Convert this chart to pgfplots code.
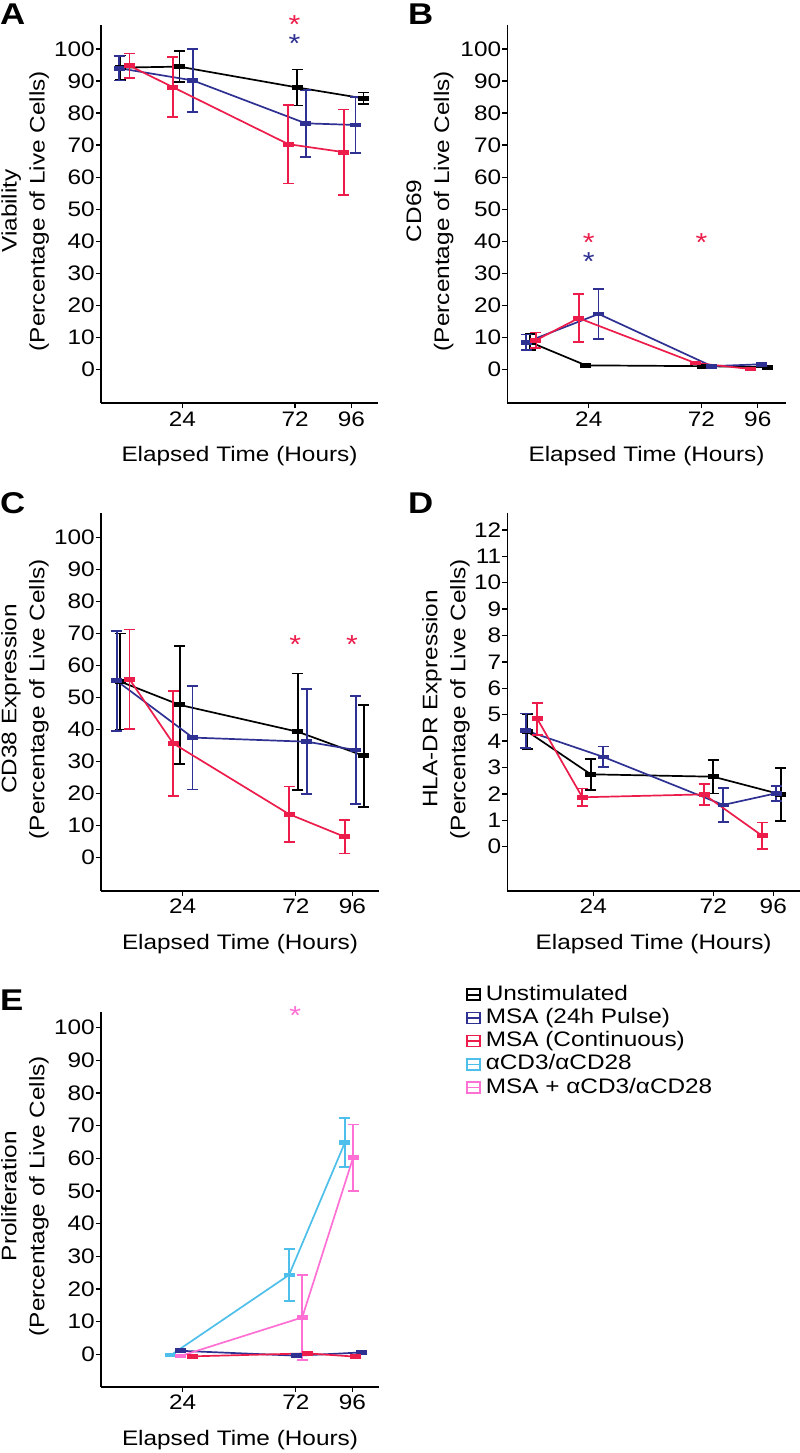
\documentclass[border=0pt]{standalone}
\usepackage{pgfplots}
\pgfplotsset{compat=1.18}
\usepackage{fontspec}
\setmainfont{Liberation Sans}[FakeStretch=1.16]

\definecolor{cBlack}{HTML}{000000}
\definecolor{cBlue}{HTML}{2E3192}
\definecolor{cRed}{HTML}{EC1C4B}
\definecolor{cCyan}{HTML}{4DBFEA}
\definecolor{cPink}{HTML}{FF70D4}

\newcommand{\tf}{\fontsize{21}{28}\selectfont}

\pgfplotsset{
  panel/.style={
    scale only axis,
    axis x line*=bottom, axis y line*=left,
    axis line style={line width=1.6pt, -},
    tick align=outside,
    major tick length=5pt,
    tick style={line width=1.3pt, black},
    /pgf/number format/assume math mode=true,
    tick label style={font=\tf},
    label style={font=\tf},
    xtick={24,72,96},
    ylabel style={align=center, at={(axis description cs:#1,0.508)}, anchor=center},
    xlabel style={at={(axis description cs:0.5,0)}, anchor=base, yshift=-58.7pt},
    xlabel={Elapsed Time (Hours)},
    yticklabel style={inner sep=1pt},
    clip=false,
  },
  series/.style={
    color=#1, line width=1.7pt, mark=-, mark size=5.5pt,
    mark options={solid, line width=4.8pt},
    error bars/y dir=both, error bars/y explicit,
    error bars/error mark options={color=#1, rotate=90, line width=1.7pt, mark size=5.5pt},
    error bars/error bar style={color=#1, line width=1.7pt},
  },
  boxkey/.style={legend image code/.code={
      \draw[##1, line width=1.6pt, mark=none] (0pt,-5.5pt) rectangle (13pt,5.5pt);
      \draw[##1, line width=1.6pt, mark=none] (0pt,0pt) -- (13pt,0pt);}},
}
\tikzset{
  sigstar/.style={font=\fontsize{26}{26}\selectfont, anchor=base, yshift=-14.8pt, inner sep=0pt},
  sigpair/.style={font=\fontsize{26}{19}\selectfont, align=center, anchor=north, yshift=3.5pt, inner sep=0pt},
}

\begin{document}
\begin{tikzpicture}
\useasboundingbox (0pt,-1453pt) rectangle (800pt,0pt);

% panel letters
\node[anchor=base west, inner sep=0pt, font=\fontsize{30}{30}\selectfont\bfseries] at (0pt,-25pt) {A};
\node[anchor=base west, inner sep=0pt, font=\fontsize{30}{30}\selectfont\bfseries] at (408pt,-25pt) {B};
\node[anchor=base west, inner sep=0pt, font=\fontsize{30}{30}\selectfont\bfseries] at (0pt,-513.3pt) {C};
\node[anchor=base west, inner sep=0pt, font=\fontsize{30}{30}\selectfont\bfseries] at (408pt,-513.3pt) {D};
\node[anchor=base west, inner sep=0pt, font=\fontsize{30}{30}\selectfont\bfseries] at (0pt,-1010pt) {E};

% ---------------- A: viability
\begin{axis}[panel=-0.274, at={(101pt,-25pt)}, anchor=north west,
  width=277pt, height=378pt, xmin=-10.7, xmax=107.3, ymin=-10.5, ymax=107.5,
  ytick={0,10,...,100}, ylabel={Viability\\(Percentage of Live Cells)}]
\addplot[series=cBlack] table[x=t, y=v, y error=e] {
t v e
-2.6 94.2 3.8
22.7 94.5 4.9
72.9 88.0 5.6
101.1 84.6 1.8
};
\addplot[series=cBlue] table[x=t, y=v, y error=e] {
t v e
-3.0 94.0 3.8
28.4 90.2 9.8
76.5 76.8 10.4
97.7 76.3 8.7
};
\addplot[series=cRed] table[x=t, y=v, y error=e] {
t v e
1.4 94.8 3.8
19.9 88.1 9.4
69.1 70.3 12.3
92.8 67.8 13.3
};
\node[sigpair] at (axis cs:71.7,109.3) {\textcolor{cRed}{*}\\\textcolor{cBlue}{*}};
\end{axis}

% ---------------- B: CD69
\begin{axis}[panel=-0.278, at={(507.3pt,-25pt)}, anchor=north west,
  width=278.4pt, height=378pt, xmin=-10.7, xmax=107.9, ymin=-10.5, ymax=107.5,
  ytick={0,10,...,100}, ylabel={CD69\\(Percentage of Live Cells)}]
\addplot[series=cBlack] table[x=t, y=v, y error=e] {
t v e
-1.0 8.5 2.5
22.8 1.25 0.3
72.4 1.0 0.3
100.1 0.7 0.3
};
\addplot[series=cBlue] table[x=t, y=v, y error=e] {
t v e
-2.7 8.5 2.4
28.2 17.3 7.8
76.4 1.0 0.4
97.7 1.6 0.5
};
\addplot[series=cRed] table[x=t, y=v, y error=e] {
t v e
1.5 9.1 2.4
19.7 16.0 7.5
69.3 2.0 0.5
93.0 0.1 0.3
};
\node[sigpair] at (axis cs:24,41.5) {\textcolor{cRed}{*}\\\textcolor{cBlue}{*}};
\node[sigstar, cRed] at (axis cs:72,41.5) {*};
\end{axis}

% ---------------- C: CD38
\begin{axis}[panel=-0.274, at={(101pt,-513.3pt)}, anchor=north west,
  width=278pt, height=377.4pt, xmin=-10.7, xmax=107.3, ymin=-10.3, ymax=107.5,
  ytick={0,10,...,100}, ylabel={CD38 Expression\\(Percentage of Live Cells)}]
\addplot[series=cBlack] table[x=t, y=v, y error=e] {
t v e
-2.6 55.0 15.0
22.7 47.7 18.4
72.9 39.3 18.2
100.8 31.8 15.9
};
\addplot[series=cBlue] table[x=t, y=v, y error=e] {
t v e
-4.0 55.2 15.6
28.2 37.5 16.2
76.7 36.2 16.4
97.5 33.6 16.9
};
\addplot[series=cRed] table[x=t, y=v, y error=e] {
t v e
1.4 55.7 15.5
19.9 35.7 16.4
69.1 13.6 8.6
92.8 6.5 5.2
};
\node[sigstar, cRed] at (axis cs:71.7,68.5) {*};
\node[sigstar, cRed] at (axis cs:95.8,68.5) {*};
\end{axis}

% ---------------- D: HLA-DR
\begin{axis}[panel=-0.21, at={(507.3pt,-513.3pt)}, anchor=north west,
  width=292.7pt, height=377.4pt, xmin=-10.4, xmax=106.7, ymin=-1.67, ymax=12.63,
  ytick={0,1,...,12}, ylabel={HLA-DR Expression\\(Percentage of Live Cells)}]
\addplot[series=cBlack] table[x=t, y=v, y error=e] {
t v e
-2.3 4.36 0.66
23.0 2.74 0.59
72.0 2.65 0.64
99.0 1.98 1.0
};
\addplot[series=cBlue] table[x=t, y=v, y error=e] {
t v e
-3.0 4.40 0.65
28.0 3.40 0.39
76.0 1.58 0.65
97.1 2.02 0.28
};
\addplot[series=cRed] table[x=t, y=v, y error=e] {
t v e
1.6 4.84 0.6
19.6 1.87 0.33
68.3 1.98 0.4
91.6 0.41 0.5
};
\end{axis}

% ---------------- E: proliferation
\begin{axis}[panel=-0.274, at={(101pt,-1011.7pt)}, anchor=north west,
  width=278pt, height=375pt, xmin=-10.7, xmax=107.3, ymin=-9.9, ymax=104.9,
  ytick={0,10,...,100}, ylabel={Proliferation\\(Percentage of Live Cells)},
  legend style={at={(axis description cs:1.313,1.071)}, anchor=north west,
    draw=none, fill=none, font=\tf, inner sep=0pt, row sep=4.2pt, column sep=5pt,
    nodes={inner sep=0pt, text height=15pt, text depth=4pt}},
  legend cell align=left]
\addlegendimage{boxkey, cBlack}
\addlegendimage{boxkey, cBlue}
\addlegendimage{boxkey, cRed}
\addlegendimage{boxkey, cCyan}
\addlegendimage{boxkey, cPink}
\legend{Unstimulated, MSA (24h Pulse), MSA (Continuous), αCD3/αCD28, MSA + αCD3/αCD28}
\addplot[series=cBlue, forget plot] table[x=t, y=v, y error=e] {
t v e
23.0 1.1 0.3
72.4 -0.4 0.3
100.0 0.6 0.3
};
\addplot[series=cRed, forget plot] table[x=t, y=v, y error=e] {
t v e
28.2 -0.6 0.3
76.9 0.3 0.3
97.5 -0.7 0.3
};
\addplot[series=cCyan, forget plot] table[x=t, y=v, y error=e] {
t v e
19.0 -0.2 0.3
69.1 24.3 8.0
92.8 64.8 7.5
};
\addplot[series=cPink, forget plot] table[x=t, y=v, y error=e] {
t v e
23.0 -0.5 0.3
74.7 11.3 13.0
96.3 60.2 10.2
};
\node[sigstar, cPink] at (axis cs:71.7,105.4) {*};
\end{axis}
\end{tikzpicture}
\end{document}
